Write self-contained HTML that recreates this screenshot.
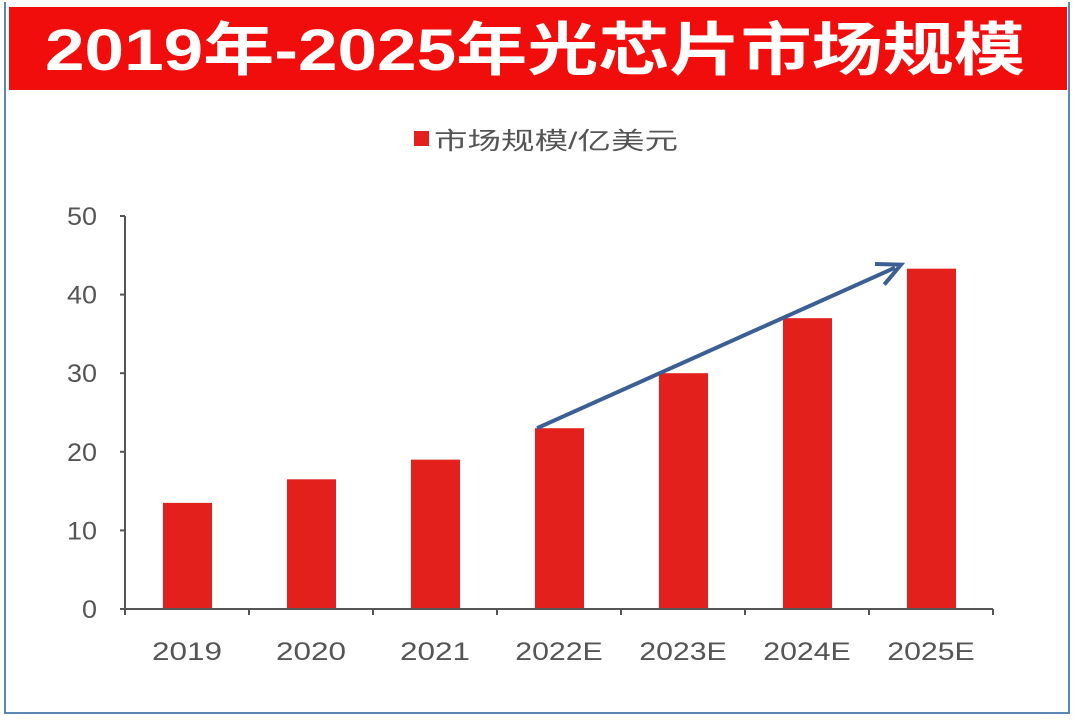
<!DOCTYPE html>
<html><head><meta charset="utf-8"><style>
body{margin:0;width:1075px;height:720px;background:#fff;overflow:hidden;font-family:"Liberation Sans","Noto Sans CJK SC",sans-serif}
#frame{position:absolute;left:4px;top:2px;width:1062px;height:710px;border:2px solid #5b86b5;border-top:none}
#band{position:absolute;left:9px;top:7px;width:1058px;height:83px;background:#f20d0d}
</style></head><body>
<div id="frame"></div>
<div id="band"></div>
<svg width="1075" height="720" style="position:absolute;left:0;top:0">
<text x="45" y="70" font-size="58" font-weight="bold" fill="#fff" textLength="980" lengthAdjust="spacingAndGlyphs" font-family="Liberation Sans, Noto Sans CJK SC, sans-serif">2019年-2025年光芯片市场规模</text>
<g id="g"></g>
</svg>
<script>
const categories=["2019","2020","2021","2022E","2023E","2024E","2025E"];
const values=[13.5,16.5,19,23,30,37,43.3];
const ticks=[0,10,20,30,40,50];
const arrowFrom=[3,23];const arrowTo=[6,43.3];
const NS="http://www.w3.org/2000/svg";
const g=document.getElementById('g');
const x0=125,x1=993,y0=609,y50=216;
const step=(x1-x0)/categories.length;
const y=v=>y0-(y0-y50)*v/50;
const cx=i=>x0+step*(i+0.5);
function mk(t,a){const e=document.createElementNS(NS,t);for(const k in a)e.setAttribute(k,a[k]);g.appendChild(e);return e;}
let e=mk('rect',{x:414,y:131,width:15,height:15,fill:'#e3201b'});


e=mk('text',{x:434,y:149,'font-size':'24',fill:'#555',textLength:244,lengthAdjust:'spacingAndGlyphs'});e.textContent='市场规模/亿美元';


values.forEach((v,i)=>{
 const b=mk('rect',{x:cx(i)-24,y:y(v),width:49,height:y0-y(v),fill:'#e3201b'});
 
 
 const t=mk('text',{x:cx(i),y:660,'font-size':'25','text-anchor':'middle',fill:'#555',textLength:categories[i].length*17.5,lengthAdjust:'spacingAndGlyphs'});t.textContent=categories[i];
 
 
});
ticks.forEach(v=>{
 mk('line',{x1:x0-5,x2:x0,y1:y(v),y2:y(v),stroke:'#555','stroke-width':2});
 const s=String(v);
 const t=mk('text',{x:x0-28,y:y(v)+9,'font-size':'25','text-anchor':'end',fill:'#555',textLength:s.length*15,lengthAdjust:'spacingAndGlyphs'});t.textContent=s;
 
 
});
for(let i=0;i<=categories.length;i++)mk('line',{x1:x0+step*i,x2:x0+step*i,y1:y0,y2:y0+6,stroke:'#555','stroke-width':2});
e=mk('line',{x1:x0,x2:x0,y1:y(50),y2:y0,stroke:'#555','stroke-width':2});


e=mk('line',{x1:x0,x2:x1,y1:y0,y2:y0,stroke:'#555','stroke-width':2});


const ax1=cx(arrowFrom[0])-22,ay1=y(arrowFrom[1]),ax2=cx(arrowTo[0])-30,ay2=y(arrowTo[1])-4;
e=mk('line',{x1:ax1,y1:ay1,x2:ax2-6,y2:ay2+3,stroke:'#3b5f93','stroke-width':4});


const ang=Math.atan2(ay2-ay1,ax2-ax1);
const p=(d,a)=>[ax2-d*Math.cos(ang+a),ay2-d*Math.sin(ang+a)];
const [p1x,p1y]=p(26,0.45),[p2x,p2y]=p(26,-0.45);
e=mk('polyline',{points:`${p1x},${p1y} ${ax2},${ay2} ${p2x},${p2y}`,fill:'none',stroke:'#3b5f93','stroke-width':4});


</script>
</body></html>
